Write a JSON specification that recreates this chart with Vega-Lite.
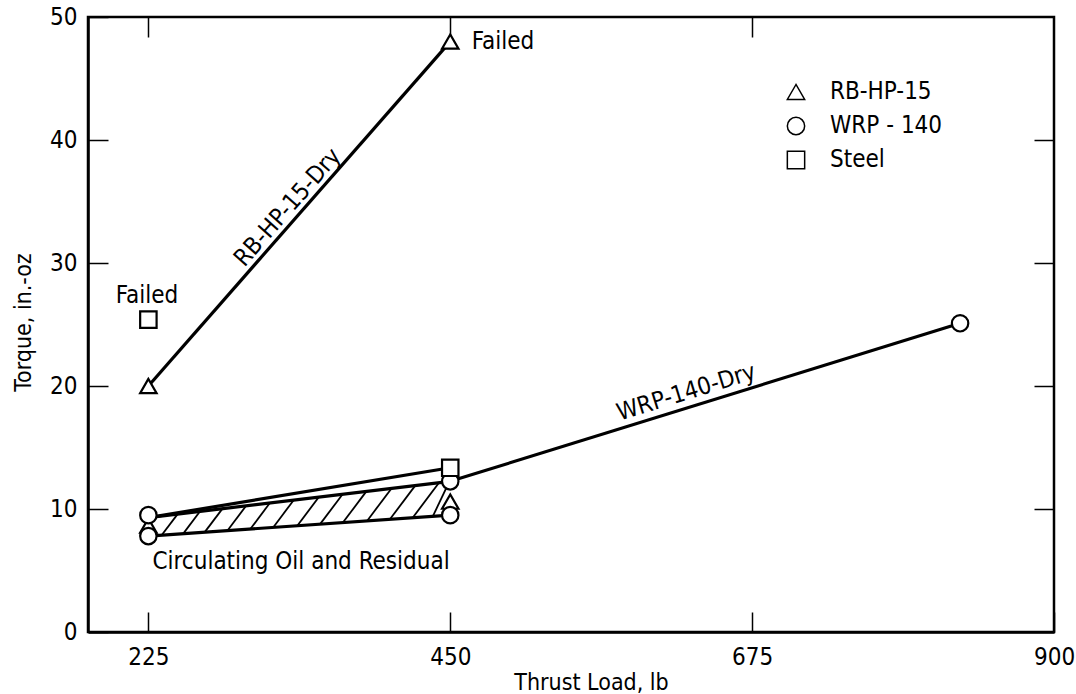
{
  "$schema": "https://vega.github.io/schema/vega-lite/v6.json",
  "width": 966,
  "height": 615,
  "autosize": {"type": "none"},
  "padding": {"left": 88, "top": 17, "right": 22, "bottom": 62},
  "background": "white",
  "config": {
    "view": {"stroke": "black", "strokeWidth": 2.5},
    "font": "Liberation Sans Narrow, DejaVu Sans Condensed, sans-serif",
    "axis": {
      "grid": false,
      "tickColor": "black",
      "tickWidth": 1.5,
      "tickSize": -20,
      "domainColor": "black",
      "domainWidth": 2.5,
      "labelColor": "black",
      "labelFont": "Liberation Sans Narrow, DejaVu Sans Condensed, sans-serif",
      "labelFontSize": 24,
      "titleColor": "black",
      "titleFont": "Liberation Sans Narrow, DejaVu Sans Condensed, sans-serif",
      "titleFontSize": 23,
      "titleFontWeight": "normal",
      "labelFlush": false,
      "labelOverlap": false
    }
  },
  "datasets": {
    "points": [
      {"material": "RB-HP-15", "load": 225, "torque": 20},
      {"material": "RB-HP-15", "load": 450, "torque": 48},
      {"material": "RB-HP-15", "load": 225, "torque": 8.65},
      {"material": "RB-HP-15", "load": 450, "torque": 10.6},
      {"material": "WRP-140", "load": 450, "torque": 12.25},
      {"material": "WRP-140", "load": 830, "torque": 25.1},
      {"material": "WRP-140", "load": 225, "torque": 9.5},
      {"material": "WRP-140", "load": 225, "torque": 7.8},
      {"material": "WRP-140", "load": 450, "torque": 9.5},
      {"material": "Steel", "load": 225, "torque": 25.4},
      {"material": "Steel", "load": 450, "torque": 13.35}
    ],
    "lines": [
      {"series": "RB-HP-15-Dry", "load": 225, "torque": 20},
      {"series": "RB-HP-15-Dry", "load": 450, "torque": 48},
      {"series": "WRP-140-Dry", "load": 450, "torque": 12.25},
      {"series": "WRP-140-Dry", "load": 830, "torque": 25.1},
      {"series": "Steel-Oil", "load": 225, "torque": 9.3},
      {"series": "Steel-Oil", "load": 450, "torque": 13.35},
      {"series": "WRP-140-Oil", "load": 225, "torque": 9.3},
      {"series": "WRP-140-Oil", "load": 450, "torque": 12.25},
      {"series": "Residual", "load": 225, "torque": 7.8},
      {"series": "Residual", "load": 450, "torque": 9.5}
    ],
    "hatch": [
      {"load": 235, "torque": 7.88, "load2": 246.8, "torque2": 9.58},
      {"load": 251, "torque": 8.0, "load2": 263.4, "torque2": 9.8},
      {"load": 267, "torque": 8.12, "load2": 280.1, "torque2": 10.01},
      {"load": 284, "torque": 8.25, "load2": 297.7, "torque2": 10.24},
      {"load": 301, "torque": 8.37, "load2": 315.4, "torque2": 10.47},
      {"load": 318, "torque": 8.5, "load2": 333.1, "torque2": 10.69},
      {"load": 336, "torque": 8.64, "load2": 351.8, "torque2": 10.93},
      {"load": 353, "torque": 8.77, "load2": 369.5, "torque2": 11.16},
      {"load": 370, "torque": 8.9, "load2": 387.2, "torque2": 11.39},
      {"load": 388, "torque": 9.03, "load2": 405.9, "torque2": 11.63},
      {"load": 405, "torque": 9.16, "load2": 423.6, "torque2": 11.86},
      {"load": 422, "torque": 9.29, "load2": 441.3, "torque2": 12.09},
      {"load": 437, "torque": 9.4, "load2": 447, "torque2": 11.7}
    ],
    "notes": [
      {"text": "Failed", "load": 466, "torque": 48, "kind": "left"},
      {"text": "Circulating Oil and Residual", "load": 228, "torque": 5.7, "kind": "left"},
      {"text": "Failed", "load": 224, "torque": 27.3, "kind": "center"},
      {"text": "RB-HP-15-Dry", "load": 329, "torque": 34.5, "kind": "rb"},
      {"text": "WRP-140-Dry", "load": 626, "torque": 19.45, "kind": "wrp"}
    ]
  },
  "resolve": {"axis": {"x": "independent", "y": "independent"}},
  "layer": [
    {
      "data": {"name": "lines"},
      "mark": {"type": "line", "color": "black", "strokeWidth": 3.2},
      "encoding": {
        "x": {
          "field": "load", "type": "quantitative",
          "scale": {"domain": [180, 900], "nice": false, "zero": false},
          "axis": {
            "orient": "bottom",
            "values": [225, 450, 675, 900],
            "labelPadding": 33,
            "title": "Thrust Load, lb",
            "titleX": 503,
            "titleY": 50,
            "titleAlign": "center",
            "titleBaseline": "middle",
            "titleAnchor": null
          }
        },
        "y": {
          "field": "torque", "type": "quantitative",
          "scale": {"domain": [0, 50], "nice": false, "zero": true},
          "axis": {
            "orient": "left",
            "values": [0, 10, 20, 30, 40, 50],
            "labelPadding": 31,
            "title": "Torque, in.-oz",
            "titleX": -65,
            "titleY": 305,
            "titleAngle": -90,
            "titleAlign": "center",
            "titleBaseline": "middle",
            "titleAnchor": null
          }
        },
        "detail": {"field": "series"}
      }
    },
    {
      "data": {"name": "hatch"},
      "mark": {"type": "rule", "color": "black", "strokeWidth": 1.8},
      "encoding": {
        "x": {
          "field": "load", "type": "quantitative",
          "axis": {"orient": "top", "values": [225, 450, 675], "labels": false, "title": null, "domain": false}
        },
        "y": {
          "field": "torque", "type": "quantitative",
          "axis": {"orient": "right", "values": [10, 20, 30, 40], "labels": false, "title": null, "domain": false}
        },
        "x2": {"field": "load2"},
        "y2": {"field": "torque2"}
      }
    },
    {
      "data": {"name": "points"},
      "mark": {"type": "point", "filled": true, "fill": "white", "stroke": "black", "strokeWidth": 2.2, "size": 270, "opacity": 1},
      "encoding": {
        "x": {"field": "load", "type": "quantitative", "axis": null},
        "y": {"field": "torque", "type": "quantitative", "axis": null},
        "shape": {
          "field": "material", "type": "nominal",
          "scale": {"domain": ["RB-HP-15", "WRP-140", "Steel"], "range": ["triangle-up", "circle", "square"]},
          "legend": {
            "orient": "none",
            "legendX": 696,
            "legendY": 63,
            "title": null,
            "labelFont": "Liberation Sans Narrow, DejaVu Sans Condensed, sans-serif",
            "labelFontSize": 24,
            "labelColor": "black",
            "labelOffset": 22,
            "rowPadding": 10,
            "symbolSize": 300,
            "labelExpr": "datum.label === 'WRP-140' ? 'WRP - 140' : datum.label",
            "encode": {
              "symbols": {
                "update": {
                  "fill": {"value": "white"},
                  "stroke": {"value": "black"},
                  "strokeWidth": {"value": 2.4},
                  "opacity": {"value": 1},
                  "fillOpacity": {"value": 1},
                  "strokeOpacity": {"value": 1}
                }
              }
            }
          }
        }
      }
    },
    {
      "data": {"name": "notes"},
      "transform": [{"filter": "datum.kind === 'left'"}],
      "mark": {"type": "text", "align": "left", "baseline": "middle", "fontSize": 24, "color": "black"},
      "encoding": {
        "x": {"field": "load", "type": "quantitative", "axis": null},
        "y": {"field": "torque", "type": "quantitative", "axis": null},
        "text": {"field": "text"}
      }
    },
    {
      "data": {"name": "notes"},
      "transform": [{"filter": "datum.kind === 'center'"}],
      "mark": {"type": "text", "align": "center", "baseline": "middle", "fontSize": 24, "color": "black"},
      "encoding": {
        "x": {"field": "load", "type": "quantitative", "axis": null},
        "y": {"field": "torque", "type": "quantitative", "axis": null},
        "text": {"field": "text"}
      }
    },
    {
      "data": {"name": "notes"},
      "transform": [{"filter": "datum.kind === 'rb'"}],
      "mark": {"type": "text", "align": "center", "baseline": "middle", "fontSize": 24, "angle": -48.7, "color": "black"},
      "encoding": {
        "x": {"field": "load", "type": "quantitative", "axis": null},
        "y": {"field": "torque", "type": "quantitative", "axis": null},
        "text": {"field": "text"}
      }
    },
    {
      "data": {"name": "notes"},
      "transform": [{"filter": "datum.kind === 'wrp'"}],
      "mark": {"type": "text", "align": "center", "baseline": "middle", "fontSize": 24, "angle": -17.2, "color": "black"},
      "encoding": {
        "x": {"field": "load", "type": "quantitative", "axis": null},
        "y": {"field": "torque", "type": "quantitative", "axis": null},
        "text": {"field": "text"}
      }
    }
  ]
}
